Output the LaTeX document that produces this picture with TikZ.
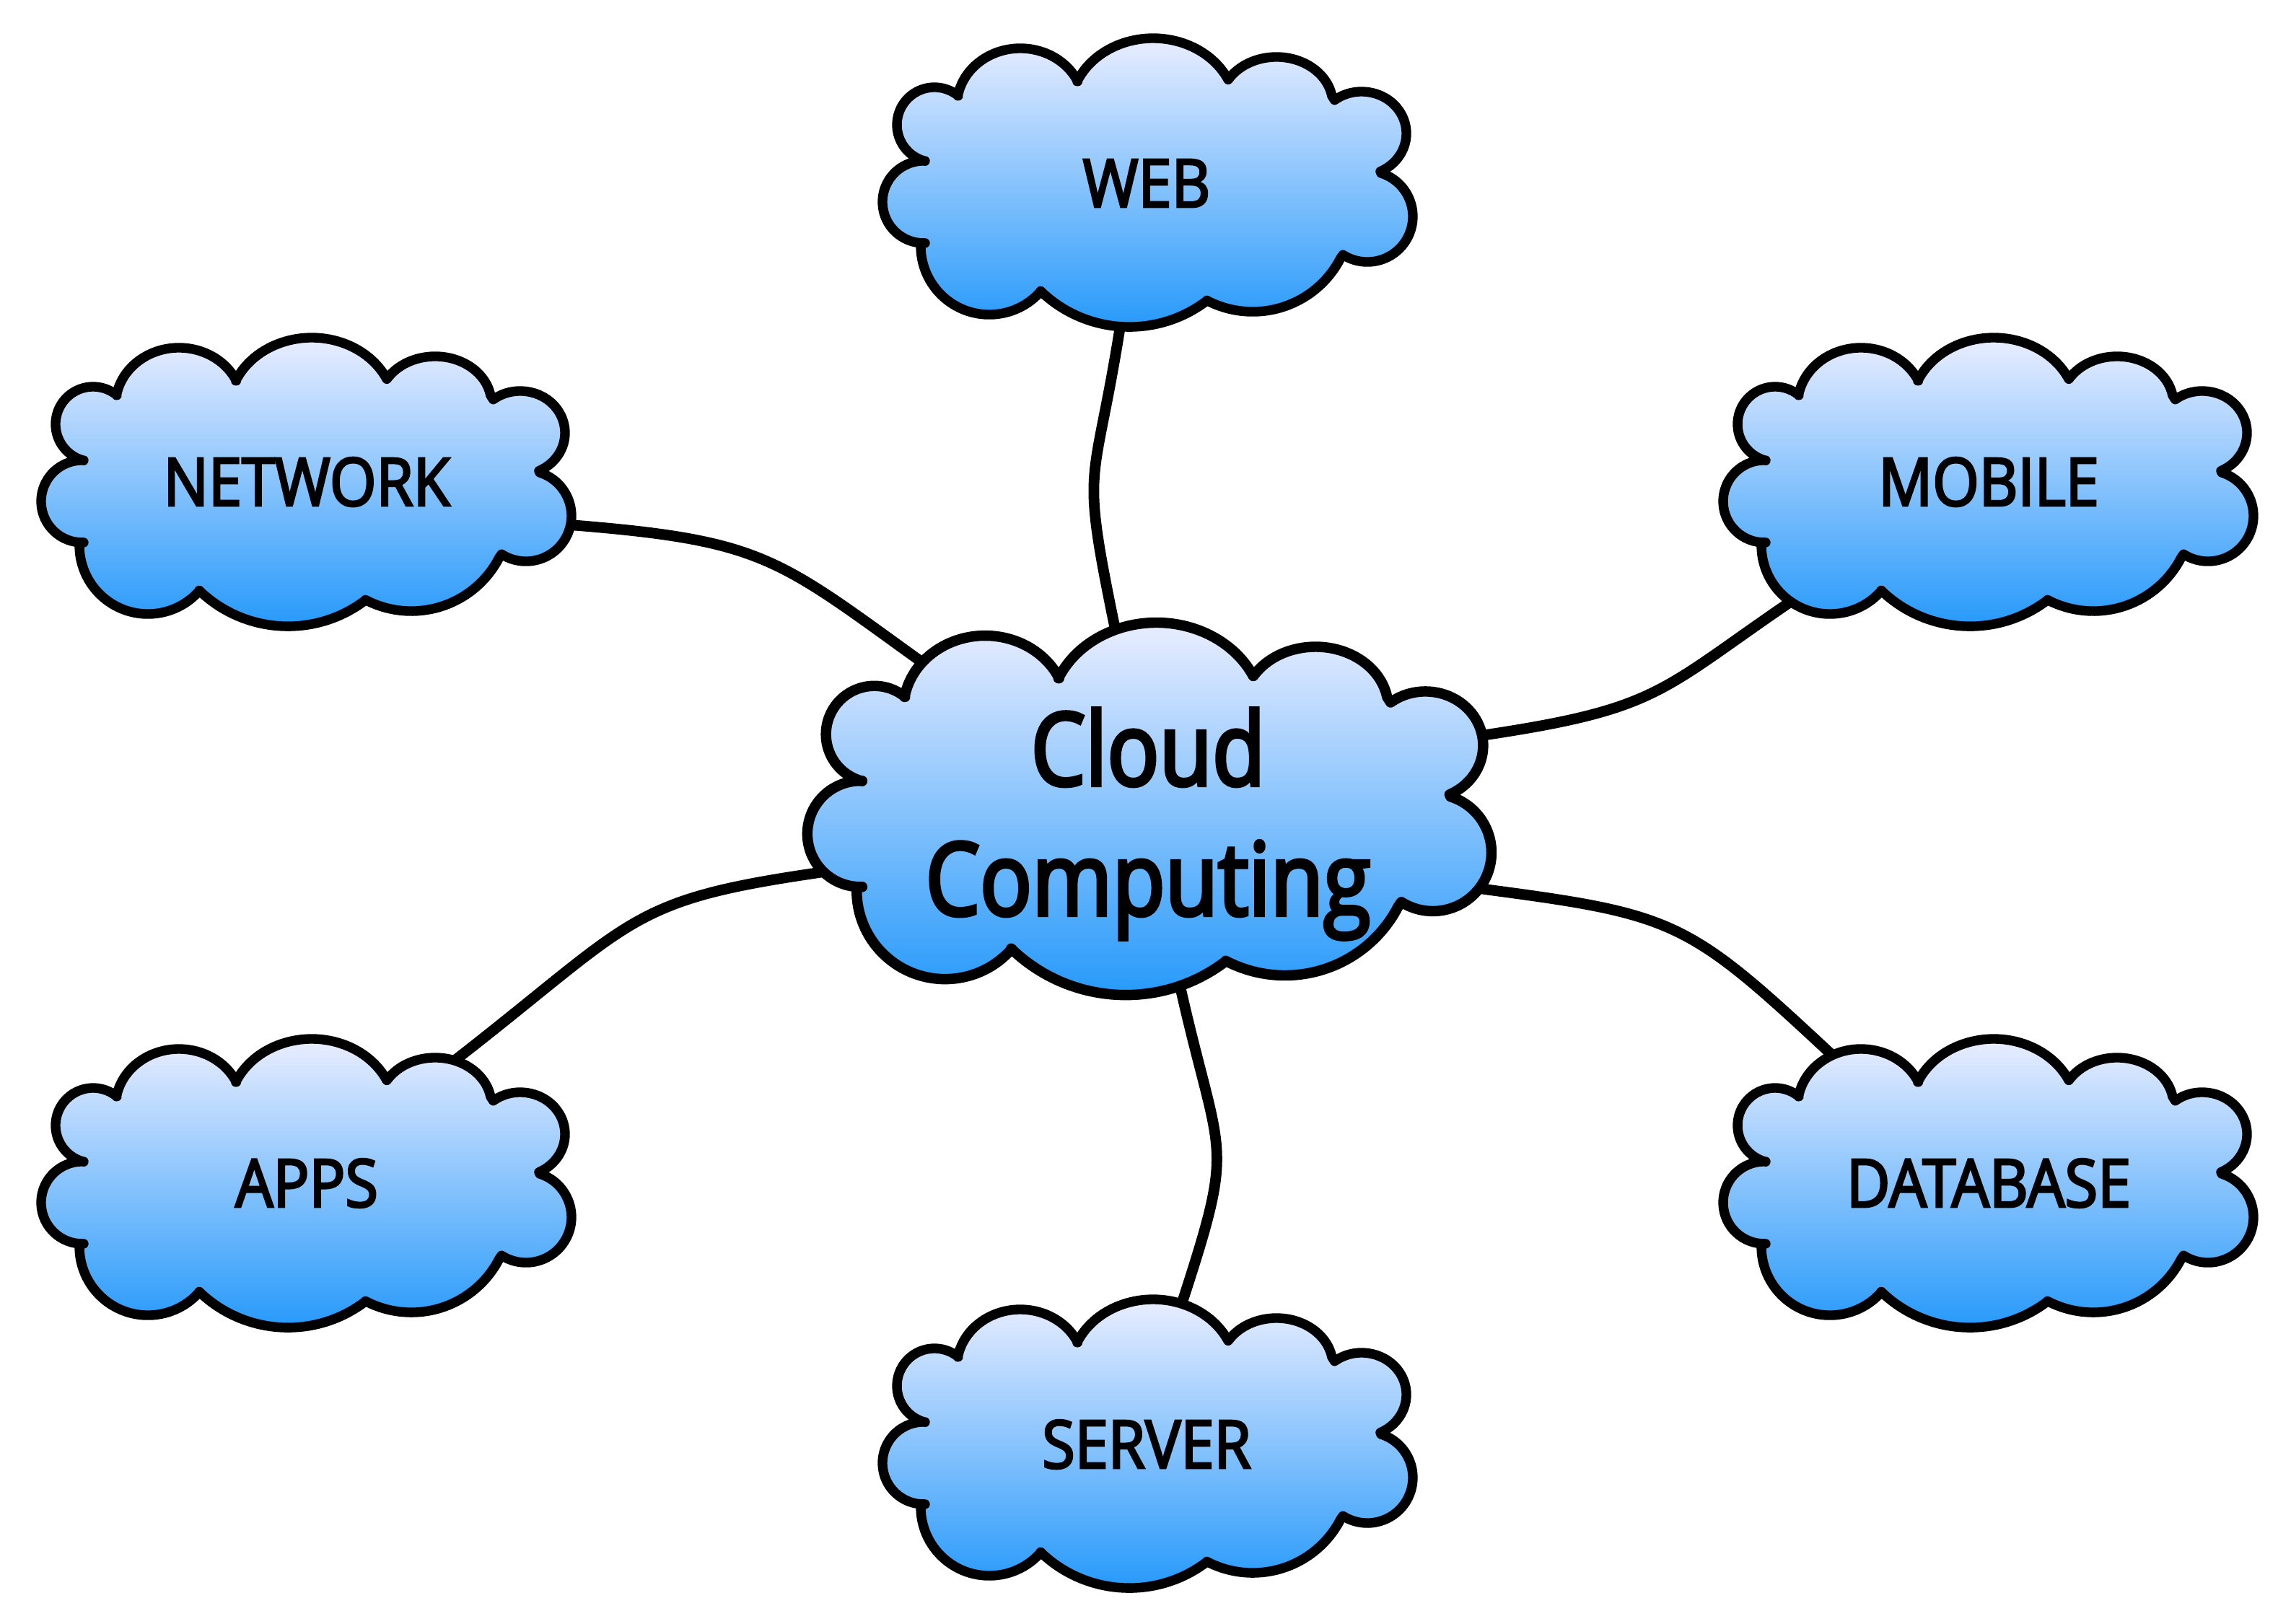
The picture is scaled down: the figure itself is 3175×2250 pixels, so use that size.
\documentclass[tikz,border=0pt]{standalone}
\usepackage{fontspec}
\newfontfamily\lblfont[FakeStretch=0.9,FakeBold=3.2]{Open Sans}
\newfontfamily\ctrfont[FakeStretch=0.85,FakeBold=3.5]{Open Sans}
\definecolor{ctop}{RGB}{240,240,255}
\definecolor{cbot}{RGB}{30,150,250}
\newcommand\cloudshape[1]{%
\path[cloudsty, line width=#1]
 (-307.1,-29.7) arc[start angle=104.6, end angle=309.5, radius=52]
 -- (-261.6,-120.2) arc[start angle=190.2, end angle=334.7, x radius=88, y radius=80]
 -- (-96.3,-140.2) arc[start angle=203.7, end angle=334.8, x radius=115, y radius=100]
 -- (113.6,-143.2) arc[start angle=211.7, end angle=350.2, x radius=78, y radius=65]
 -- (260.6,-114.3) arc[start angle=232.9, end angle=425.3, x radius=62, y radius=58]
 -- (325,-13) arc[start angle=287.6, end angle=482.5, radius=63]
 -- (268.8,104.9) arc[start angle=27.3, end angle=117.7, radius=137]
 -- (83.1,164.1) arc[start angle=52.8, end angle=134.1, radius=177]
 -- (-146.4,150.5) arc[start angle=41.1, end angle=181.9, radius=95]
 -- (-307,83.9) arc[start angle=88, end angle=272, radius=57]
 -- cycle;}
\begin{document}
\begin{tikzpicture}[x=0.01cm,y=-0.01cm,
  cloudsty/.style={draw=black, line join=round, top color=ctop, bottom color=cbot},
  link/.style={draw=black, line width=4.2pt, line cap=round},
  lbl/.style={font=\lblfont\fontsize{26.2}{30}\selectfont, inner sep=0pt, text=black},
  ctr/.style={font=\ctrfont\fontsize{40}{51.2}\selectfont, align=center, inner sep=0pt, text=black}]
\useasboundingbox (0,0) rectangle (3175,2250);
% connector end points
\coordinate (net-a) at (756,725);  \coordinate (net-p) at (796,728);
\coordinate (net-q) at (1271,913); \coordinate (net-b) at (1303,936);
\coordinate (web-a) at (1558,416); \coordinate (web-p) at (1552,455);
\coordinate (web-q) at (1543,860); \coordinate (web-b) at (1551,899);
\coordinate (mob-a) at (2023,1024); \coordinate (mob-p) at (2063,1018);
\coordinate (mob-q) at (2483,833);  \coordinate (mob-b) at (2516,811);
\coordinate (app-a) at (607,1488);  \coordinate (app-p) at (639,1463);
\coordinate (app-q) at (1118,1212); \coordinate (app-b) at (1158,1206);
\coordinate (db-a) at (2021,1227);  \coordinate (db-p) at (2061,1233);
\coordinate (db-q) at (2529,1453);  \coordinate (db-b) at (2558,1480);
\coordinate (srv-a) at (1631,1348); \coordinate (srv-p) at (1640,1387);
\coordinate (srv-q) at (1640,1800); \coordinate (srv-b) at (1628,1838);
% connectors
\draw[link] (net-a) -- (net-p) .. controls (1055,749) and (1077,773) .. (net-q) -- (net-b);
\draw[link] (web-a) -- (web-p) .. controls (1516,682) and (1497,635) .. (web-q) -- (web-b);
\draw[link] (mob-a) -- (mob-p) .. controls (2300,982) and (2301,957) .. (mob-q) -- (mob-b);
\draw[link] (app-a) -- (app-p) .. controls (876,1278) and (871,1249) .. (app-q) -- (app-b);
\draw[link] (db-a) -- (db-p) .. controls (2318,1267) and (2339,1276) .. (db-q) -- (db-b);
\draw[link] (srv-a) -- (srv-p) .. controls (1692,1611) and (1711,1581) .. (srv-q) -- (srv-b);
% clouds
\begin{scope}[shift={(1589,253)}]\cloudshape{3.8pt}\end{scope}
\begin{scope}[shift={(423,668)}]\cloudshape{3.8pt}\end{scope}
\begin{scope}[shift={(2754,668)}]\cloudshape{3.8pt}\end{scope}
\begin{scope}[shift={(423,1640)}]\cloudshape{3.8pt}\end{scope}
\begin{scope}[shift={(2754,1640)}]\cloudshape{3.8pt}\end{scope}
\begin{scope}[shift={(1589,2001)}]\cloudshape{3.8pt}\end{scope}
\begin{scope}[shift={(1591,1121)}, scale=1.29]\cloudshape{4.1pt}\end{scope}
% labels
\node[lbl] (web) at (1589,254) {WEB};
\node[lbl] (net) at (425,668) {NETWORK};
\node[lbl] (mob) at (2756,668) {MOBILE};
\node[lbl] (apps) at (425,1640) {APPS};
\node[lbl] (db) at (2756,1640) {DATABASE};
\node[lbl] (srv) at (1589,2002) {SERVER};
\node[ctr] (cc) at (1591,1142) {Cloud\\Computing};
\end{tikzpicture}
\end{document}
